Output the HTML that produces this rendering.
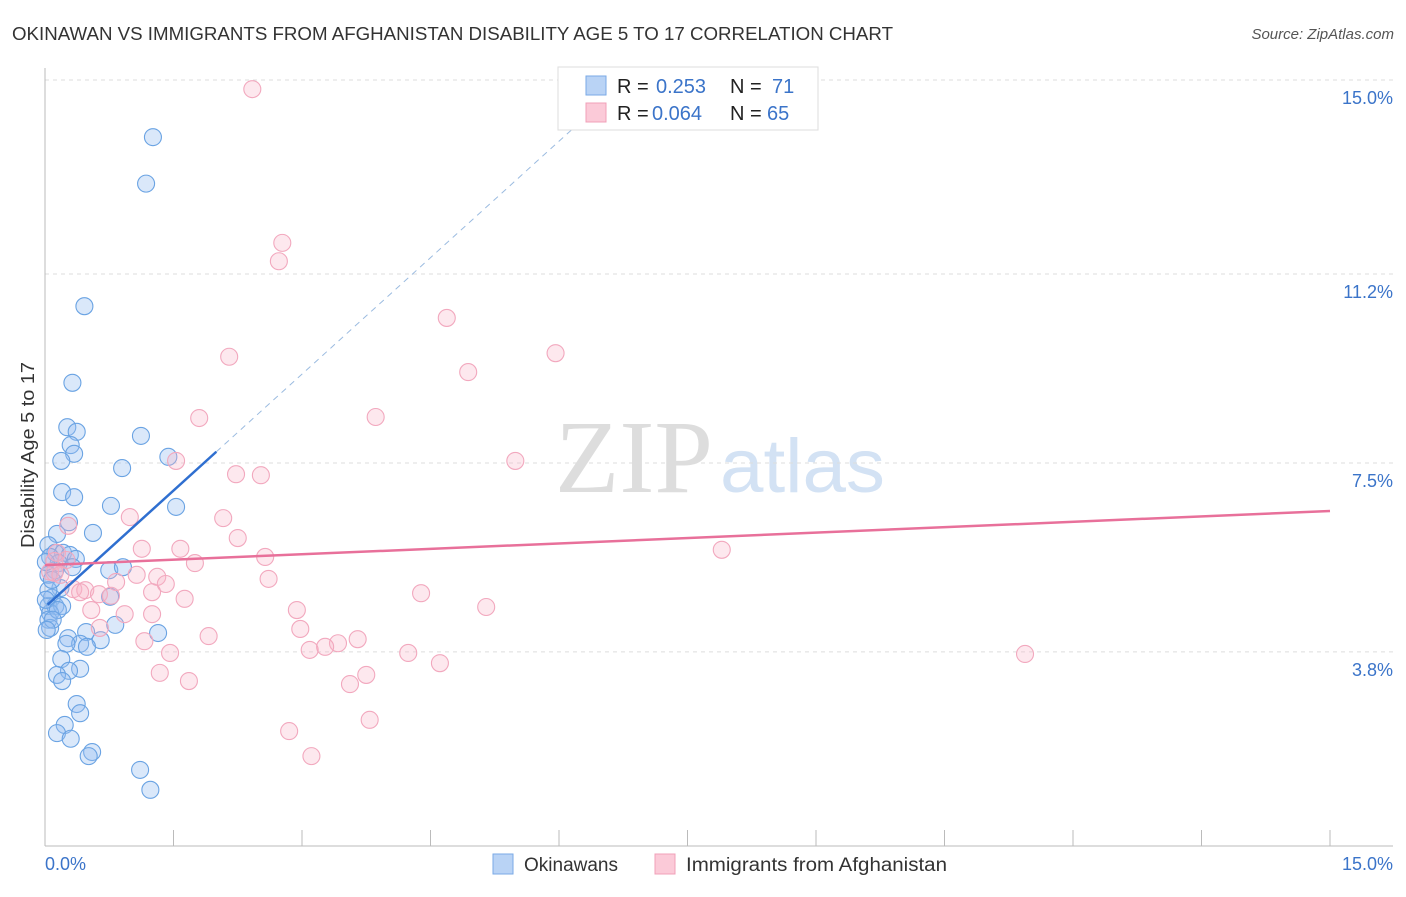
<!DOCTYPE html>
<html><head><meta charset="utf-8"><style>
body{margin:0;background:#fff;font-family:"Liberation Sans",sans-serif}
</style></head><body>
<svg id="c" width="1406" height="892" xmlns="http://www.w3.org/2000/svg" style="font-family:'Liberation Sans',sans-serif">
<text x="12" y="40" font-size="18" fill="#333" textLength="881" lengthAdjust="spacingAndGlyphs">OKINAWAN VS IMMIGRANTS FROM AFGHANISTAN DISABILITY AGE 5 TO 17 CORRELATION CHART</text>
<text x="1394" y="39" font-size="15" fill="#555" font-style="italic" text-anchor="end">Source: ZipAtlas.com</text>
<text x="555" y="492" font-size="104" fill="#ddd" font-family="Liberation Serif" textLength="158" lengthAdjust="spacingAndGlyphs">ZIP</text>
<text x="720" y="492" font-size="76" fill="#d3e2f4" textLength="165" lengthAdjust="spacingAndGlyphs">atlas</text>
<g id="grid"></g><g id="axes"></g><g id="pts"></g><g id="lines"></g>
<text x="34" y="455" font-size="18" fill="#333" text-anchor="middle" textLength="186" lengthAdjust="spacingAndGlyphs" transform="rotate(-90 34 455)">Disability Age 5 to 17</text>
<g>
<rect x="558" y="67" width="260" height="63" fill="#fff" stroke="#ddd"/>
<rect x="586" y="76" width="20" height="19" fill="#b9d3f5" stroke="#7aa9e6"/>
<rect x="586" y="103" width="20" height="19" fill="#fbcad8" stroke="#f0a0b8"/>
<text x="617" y="93" font-size="20" fill="#222">R = <tspan fill="#3b74c9" x="656">0.253</tspan><tspan x="730">N = </tspan><tspan fill="#3b74c9" x="772">71</tspan></text>
<text x="617" y="120" font-size="20" fill="#222">R = <tspan fill="#3b74c9" x="652">0.064</tspan><tspan x="730">N = </tspan><tspan fill="#3b74c9" x="767">65</tspan></text>
</g>
<g>
<rect x="493" y="854" width="20" height="20" fill="#b9d3f5" stroke="#7aa9e6"/>
<text x="524" y="871" font-size="19" fill="#333">Okinawans</text>
<rect x="655" y="854" width="20" height="20" fill="#fbcad8" stroke="#f0a0b8"/>
<text x="686" y="871" font-size="19" fill="#333" textLength="261" lengthAdjust="spacingAndGlyphs">Immigrants from Afghanistan</text>
</g>
</svg>
<script>
const yTicks=[15.0,11.2,7.5,3.8];
const yTickLabels=["15.0%","11.2%","7.5%","3.8%"];
const xTickLabels=["0.0%","15.0%"];
const blueX=[1.26,1.18,0.46,0.32,0.26,0.37,0.30,0.34,0.19,1.12,1.44,0.90,0.20,0.34,0.77,1.53,0.28,0.56,0.14,0.04,0.12,0.21,0.29,0.36,0.06,0.16,0.32,0.12,0.75,0.91,0.04,0.18,0.08,0.04,0.12,0.20,0.06,0.04,0.06,0.82,1.32,0.48,0.27,0.65,0.41,0.49,0.25,0.19,0.41,0.28,0.14,0.20,0.37,0.41,0.23,0.14,0.30,0.55,0.51,1.11,1.23,0.04,0.08,0.01,0.01,0.15,0.09,0.02,0.76];
const blueY=[13.88,12.97,10.57,9.07,8.20,8.11,7.85,7.68,7.54,8.03,7.62,7.40,6.93,6.83,6.66,6.64,6.34,6.13,6.11,5.89,5.74,5.74,5.70,5.62,5.66,5.54,5.46,5.40,5.40,5.46,5.31,5.05,4.86,4.70,4.70,4.70,4.56,4.43,4.27,4.33,4.17,4.19,4.07,4.03,3.96,3.90,3.96,3.66,3.47,3.43,3.35,3.23,2.78,2.60,2.37,2.21,2.10,1.84,1.76,1.49,1.10,5.01,5.21,4.82,5.56,4.62,4.43,4.23,4.88];
const pinkX=[2.42,2.77,2.73,4.69,5.96,4.94,2.15,3.86,1.80,1.53,5.49,2.23,2.52,0.27,0.99,2.08,2.25,1.13,1.58,2.57,1.75,7.90,0.14,0.11,0.06,1.07,1.31,0.83,1.41,2.61,0.33,0.47,0.41,1.25,0.63,0.77,1.63,4.39,0.54,0.93,1.25,2.94,5.15,2.98,1.91,1.16,3.65,3.42,3.09,3.27,1.46,4.24,4.61,11.44,1.34,1.68,3.75,3.56,3.79,2.85,3.11,0.11,0.25,0.64,0.18];
const pinkY=[14.82,11.81,11.45,10.34,9.65,9.28,9.58,8.40,8.38,7.54,7.54,7.28,7.26,6.27,6.44,6.42,6.03,5.82,5.82,5.66,5.54,5.80,5.74,5.58,5.37,5.31,5.27,5.17,5.13,5.23,5.03,5.01,4.97,4.97,4.93,4.90,4.84,4.95,4.62,4.54,4.54,4.62,4.68,4.25,4.11,4.01,4.05,3.97,3.84,3.90,3.78,3.78,3.58,3.76,3.39,3.23,3.35,3.17,2.47,2.25,1.76,5.35,5.60,4.27,5.31];
const blueTrend=[4.68,1.52]; // intercept, slope
const pinkTrend=[5.50,0.0707];
const NS="http://www.w3.org/2000/svg";
const X=v=>45+v/15*1285, Y=v=>846-v*51.07;
function mk(tag,attrs,parent){const e=document.createElementNS(NS,tag);for(const k in attrs)e.setAttribute(k,attrs[k]);document.getElementById(parent).appendChild(e);return e;}
yTicks.forEach((t,i)=>{
 const g=mk('line',{x1:45,x2:1393,y1:Y(t),y2:Y(t),stroke:'#ddd','stroke-dasharray':'4,4'},'grid');
 
 
 const l=mk('text',{x:1393,y:Y(t)+24,'font-size':18,fill:'#3b74c9','text-anchor':'end'},'grid');
 l.textContent=yTickLabels[i];
 
 
});
const ax=mk('line',{x1:45,x2:45,y1:68,y2:846,stroke:'#bbb'},'axes');


const bx=mk('line',{x1:45,x2:1393,y1:846,y2:846,stroke:'#bbb'},'axes');


for(let i=0;i<=10;i++){
 const t=mk('line',{x1:X(i*1.5),x2:X(i*1.5),y1:830,y2:846,stroke:'#bbb'},'axes');
 
 
}
[[0,'start',45],[1,'end',1393]].forEach(([i,a,x])=>{
 const l=mk('text',{x:x,y:870,'font-size':18,fill:'#3b74c9','text-anchor':a},'axes');
 l.textContent=xTickLabels[i];
 
 
});
blueX.forEach((v,i)=>{
 const c=mk('circle',{cx:X(v),cy:Y(blueY[i]),r:8.5,fill:'rgba(150,190,240,0.35)',stroke:'#6aa3e3','stroke-width':1.1},'pts');
 
 
});
pinkX.forEach((v,i)=>{
 const c=mk('circle',{cx:X(v),cy:Y(pinkY[i]),r:8.5,fill:'rgba(248,180,200,0.3)',stroke:'#f2a8be','stroke-width':1.1},'pts');
 
 
});
const bt=x=>blueTrend[0]+blueTrend[1]*x, pt=x=>pinkTrend[0]+pinkTrend[1]*x;
const d1=mk('line',{x1:X(2.0),y1:Y(bt(2.0)),x2:X(6.2),y2:Y(bt(6.2)),stroke:'#9bbbe0','stroke-dasharray':'6,5','stroke-width':1},'lines');


const s1=mk('line',{x1:X(0.03),y1:Y(bt(0.03)),x2:X(2.0),y2:Y(bt(2.0)),stroke:'#2f6fd0','stroke-width':2.5},'lines');


const s2=mk('line',{x1:X(0),y1:Y(pt(0)),x2:X(15),y2:Y(pt(15)),stroke:'#e8709a','stroke-width':2.5},'lines');


</script>
</body></html>
